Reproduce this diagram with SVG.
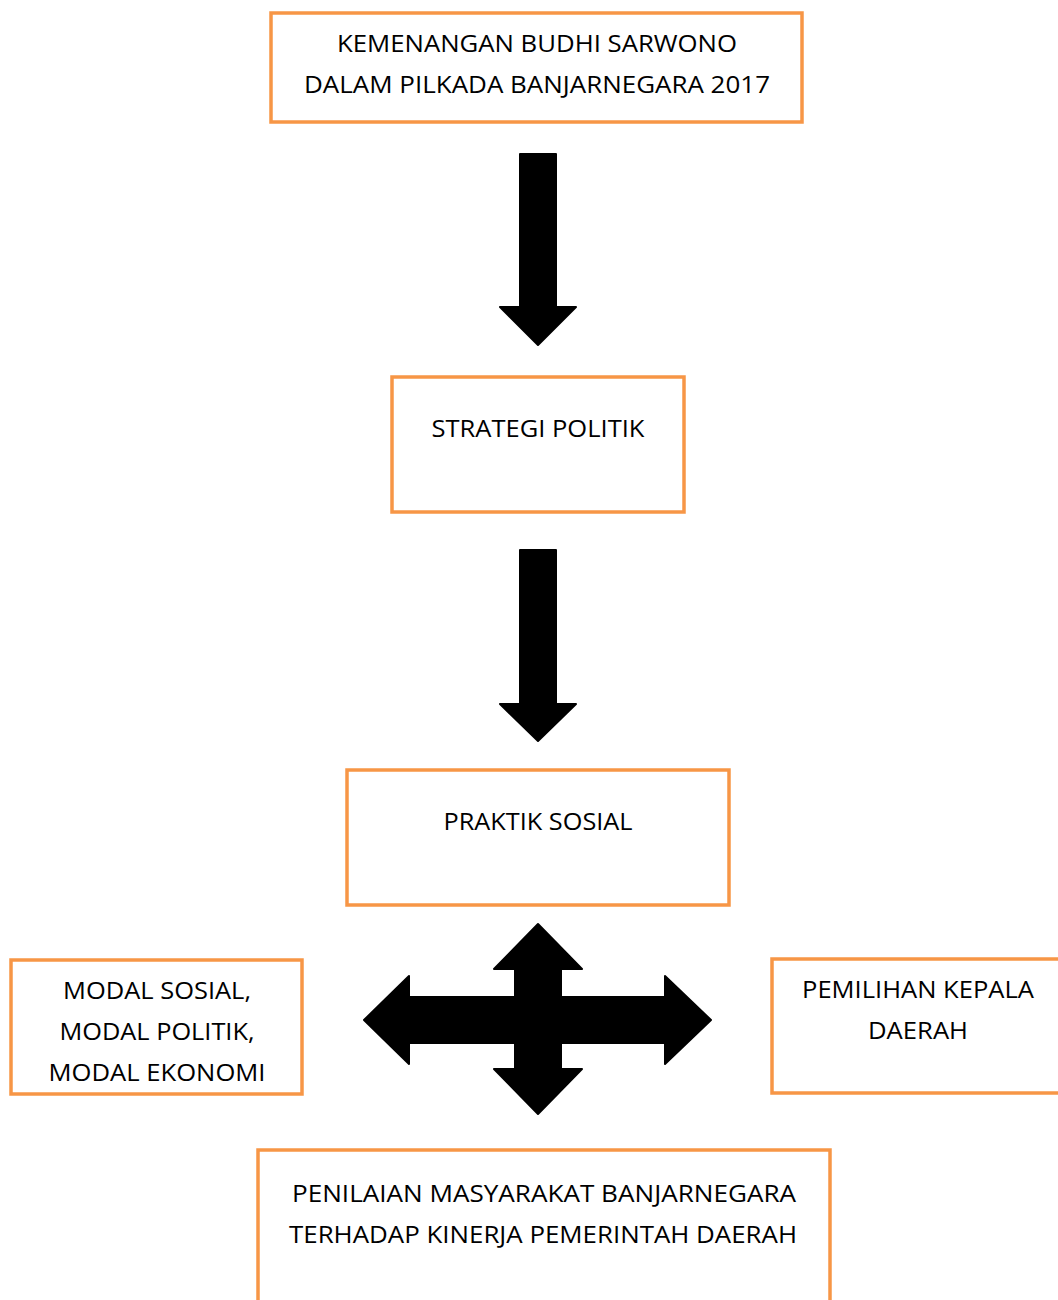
<svg xmlns="http://www.w3.org/2000/svg" width="1058" height="1300" viewBox="0 0 1058 1300">
<style>
.box{fill:#fff;stroke:#F79646;stroke-width:3.5}
.t{font-family:"Open Sans","Liberation Sans",sans-serif;font-size:24.5px;fill:#000;text-anchor:middle}
.arr{fill:#000;stroke:#000;stroke-width:2;stroke-linejoin:round}
</style>
<rect width="1058" height="1300" fill="#fff"/>
<g id="connectors">
<polygon class="arr" points="520,154 556,154 556,307 576,307 538,345 500,307 520,307"/>
<polygon class="arr" points="520,550 556,550 556,704 576,704 538,741 500,704 520,704"/>
<polygon class="arr" points="538,924 582,969 561,969 561,997 665,997 665,976 711,1020 665,1064 665,1043 561,1043 561,1069 582,1069 538,1114 494,1069 515,1069 515,1043 409,1043 409,1064 364,1020 409,976 409,997 515,997 515,969 494,969"/>
</g>
<g id="n1">
<rect class="box" x="271" y="13" width="531" height="109"/>
<text class="t" x="537" y="52" textLength="400" lengthAdjust="spacingAndGlyphs">KEMENANGAN BUDHI SARWONO</text>
<text class="t" x="537" y="93" textLength="466" lengthAdjust="spacingAndGlyphs">DALAM PILKADA BANJARNEGARA 2017</text>
</g>
<g id="n2">
<rect class="box" x="392" y="377" width="292" height="135"/>
<text class="t" x="538" y="437" textLength="213" lengthAdjust="spacingAndGlyphs">STRATEGI POLITIK</text>
</g>
<g id="n3">
<rect class="box" x="347" y="770" width="382" height="135"/>
<text class="t" x="538" y="830" textLength="189" lengthAdjust="spacingAndGlyphs">PRAKTIK SOSIAL</text>
</g>
<g id="n4">
<rect class="box" x="11" y="960" width="291" height="134"/>
<text class="t" x="157" y="999" textLength="188" lengthAdjust="spacingAndGlyphs">MODAL SOSIAL,</text>
<text class="t" x="157" y="1040" textLength="195" lengthAdjust="spacingAndGlyphs">MODAL POLITIK,</text>
<text class="t" x="157" y="1081" textLength="217" lengthAdjust="spacingAndGlyphs">MODAL EKONOMI</text>
</g>
<g id="n5">
<rect class="box" x="772" y="959" width="300" height="134"/>
<text class="t" x="918" y="998" textLength="232" lengthAdjust="spacingAndGlyphs">PEMILIHAN KEPALA</text>
<text class="t" x="918" y="1039" textLength="100" lengthAdjust="spacingAndGlyphs">DAERAH</text>
</g>
<g id="n6">
<rect class="box" x="258" y="1150" width="572" height="170"/>
<text class="t" x="544" y="1202" textLength="504" lengthAdjust="spacingAndGlyphs">PENILAIAN MASYARAKAT BANJARNEGARA</text>
<text class="t" x="543" y="1243" textLength="508" lengthAdjust="spacingAndGlyphs">TERHADAP KINERJA PEMERINTAH DAERAH</text>
</g>
</svg>
